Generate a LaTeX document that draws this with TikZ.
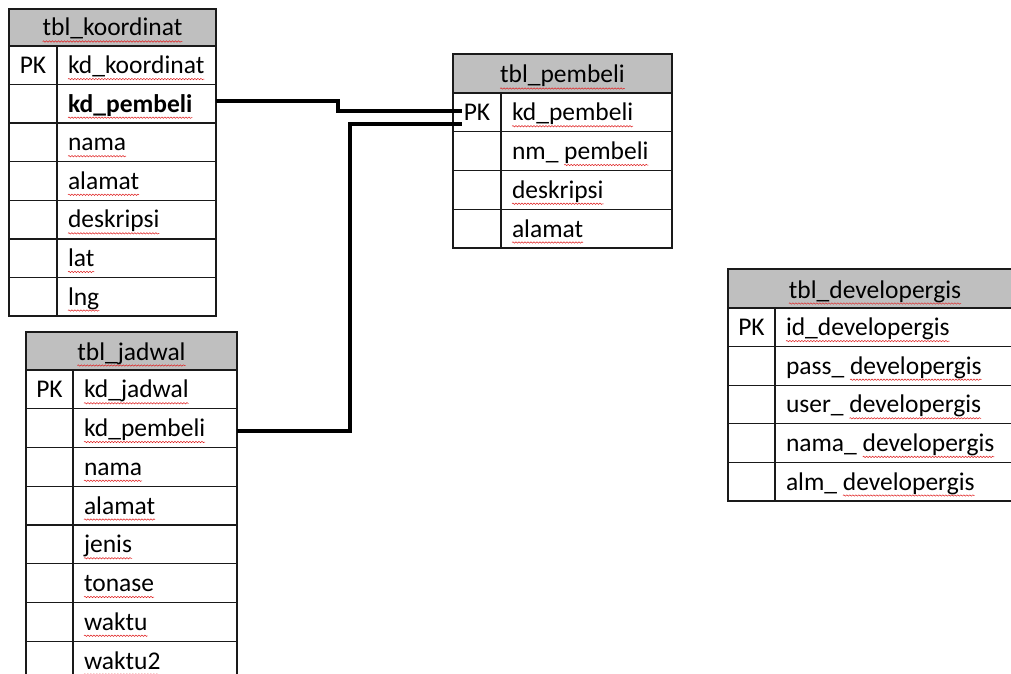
\documentclass[tikz,border=0pt]{standalone}
\usepackage{fontspec}
\setmainfont{Carlito}
\usetikzlibrary{decorations.pathmorphing}
\definecolor{hdrgray}{HTML}{BFBFBF}
\definecolor{linec}{HTML}{1A1A1A}
\definecolor{spell}{HTML}{E02020}
\newcommand\tfont{\fontsize{25.5}{30}\selectfont}
\tikzset{
  tcell/.style={draw=linec, line width=1.3pt, anchor=north west, inner sep=0pt, outer sep=0pt},
  thdr/.style={tcell, fill=hdrgray},
  ttxt/.style={inner sep=0pt, outer sep=0pt, minimum width=0pt, minimum height=0pt, anchor=base west},
  tkey/.style={inner sep=0pt, outer sep=0pt, minimum width=0pt, minimum height=0pt, anchor=base},
  wavy/.style={draw=spell, line width=0.5pt, decorate, decoration={snake, segment length=3pt, amplitude=0.7pt}},
  conn/.style={line width=3.6pt, draw=black}
}
% #1 name, #2 x0, #3 xdiv, #4 x1, #5 top, #6 height, #7 full text, #8 part before the underline
\newcommand\trow[8]{%
  \node[tcell, minimum width={(#3-#2)*1pt}, minimum height={#6*1pt}] (#1a) at (#2,#5) {};
  \node[tcell, minimum width={(#4-#3)*1pt}, minimum height={#6*1pt}] (#1) at (#3,#5) {};
  \node[ttxt] (#1t) at ([xshift=11pt,yshift=11pt]#1.south west) {#7};
  \node[ttxt] (#1p) at (#1t.base west) {\phantom{#8}};
  \draw[wavy] ([yshift=-5.5pt]#1p.base east) -- ([yshift=-5.5pt]#1t.base east);}
% #1 name, #2 x0, #3 x1, #4 top, #5 height, #6 title
\newcommand\thead[6]{%
  \node[thdr, minimum width={(#3-#2)*1pt}, minimum height={#5*1pt}] (#1) at (#2,#4) {};
  \node[tkey] (#1t) at ([yshift=10pt]#1.south) {#6};
  \draw[wavy] ([yshift=-5.5pt]#1t.base west) -- ([yshift=-5.5pt]#1t.base east);}
\newcommand\tpk[1]{\node[tkey] (#1k) at ([yshift=11pt]#1a.south) {PK};}
\begin{document}
\begin{tikzpicture}[x=1pt, y=-1pt, font=\tfont]
\useasboundingbox (0,0) rectangle (1011,674);
\clip (0,0) rectangle (1011,674);
\fill[white] (0,0) rectangle (1011,674);

% tbl_koordinat
\thead{kh}{9}{216}{9}{37}{tbl\_koordinat}
\trow{k1}{9}{57}{216}{46}{38.57}{kd\_koordinat}{}
\trow{k2}{9}{57}{216}{84.57}{38.57}{\bfseries kd\_pembeli}{}
\trow{k3}{9}{57}{216}{123.14}{38.57}{nama}{}
\trow{k4}{9}{57}{216}{161.71}{38.57}{alamat}{}
\trow{k5}{9}{57}{216}{200.29}{38.57}{deskripsi}{}
\trow{k6}{9}{57}{216}{238.86}{38.57}{lat}{}
\trow{k7}{9}{57}{216}{277.43}{38.57}{lng}{}
\tpk{k1}

% tbl_jadwal
\thead{jh}{26}{237}{332}{38}{tbl\_jadwal}
\trow{j1}{26}{73}{237}{370}{38.75}{kd\_jadwal}{}
\trow{j2}{26}{73}{237}{408.75}{38.75}{kd\_pembeli}{}
\trow{j3}{26}{73}{237}{447.5}{38.75}{nama}{}
\trow{j4}{26}{73}{237}{486.25}{38.75}{alamat}{}
\trow{j5}{26}{73}{237}{525}{38.75}{jenis}{}
\trow{j6}{26}{73}{237}{563.75}{38.75}{tonase}{}
\trow{j7}{26}{73}{237}{602.5}{38.75}{waktu}{}
\trow{j8}{26}{73}{237}{641.25}{38.75}{waktu2}{}
\tpk{j1}

% tbl_pembeli
\thead{ph}{453}{672}{54}{39}{tbl\_pembeli}
\trow{p1}{453}{501}{672}{93}{38.75}{kd\_pembeli}{}
\trow{p2}{453}{501}{672}{131.75}{38.75}{nm\_ pembeli}{nm\_ }
\trow{p3}{453}{501}{672}{170.5}{38.75}{deskripsi}{}
\trow{p4}{453}{501}{672}{209.25}{38.75}{alamat}{}
\tpk{p1}

% tbl_developergis
\thead{dh}{728}{1022}{269}{39}{tbl\_developergis}
\trow{d1}{728}{775}{1022}{308}{38.6}{id\_developergis}{}
\trow{d2}{728}{775}{1022}{346.6}{38.6}{pass\_ developergis}{pass\_ }
\trow{d3}{728}{775}{1022}{385.2}{38.6}{user\_ developergis}{user\_ }
\trow{d4}{728}{775}{1022}{423.8}{38.6}{nama\_ developergis}{nama\_ }
\trow{d5}{728}{775}{1022}{462.4}{38.6}{alm\_ developergis}{alm\_ }
\tpk{d1}

% relations
\draw[conn] ([yshift=2.9pt]k2.east) -- ++(122,0) |- ([xshift=9pt,yshift=1.4pt]p1a.west);
\draw[conn] ([yshift=-2.7pt]j2.east) -- ++(113,0) |- ([xshift=9pt,yshift=-11.5pt]p1a.west);
\end{tikzpicture}
\end{document}
